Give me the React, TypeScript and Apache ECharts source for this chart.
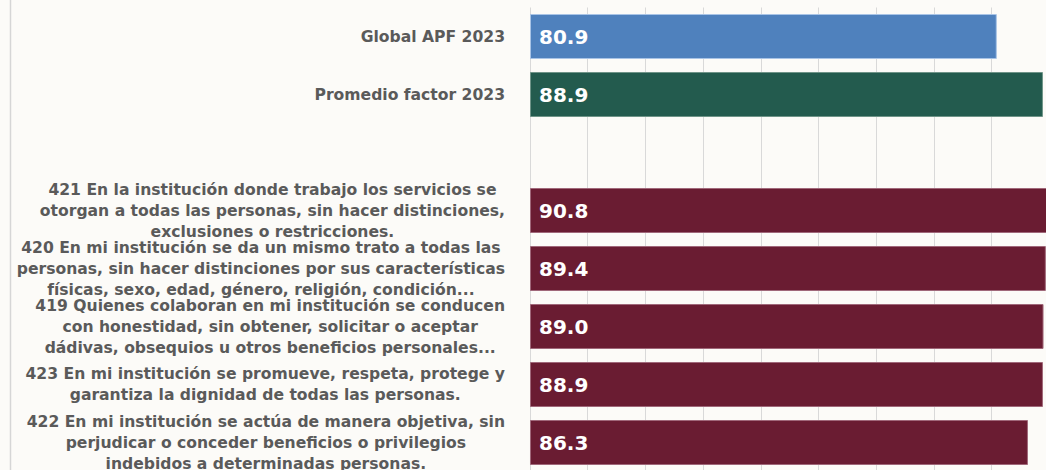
import React, { useEffect, useRef } from "react";
import * as echarts from "echarts";

const categories: string[] = [
  "Global APF 2023",
  "Promedio factor 2023",
  "",
  "421 En la institución donde trabajo los servicios se\notorgan a todas las personas, sin hacer distinciones,\nexclusiones o restricciones.",
  "420 En mi institución se da un mismo trato a todas las\npersonas, sin hacer distinciones por sus características\nfísicas, sexo, edad, género, religión, condición...",
  "419 Quienes colaboran en mi institución se conducen\ncon honestidad, sin obtener, solicitar o aceptar\ndádivas, obsequios u otros beneficios personales...",
  "423 En mi institución se promueve, respeta, protege y\ngarantiza la dignidad de todas las personas.",
  "422 En mi institución se actúa de manera objetiva, sin\nperjudicar o conceder beneficios o privilegios\nindebidos a determinadas personas.",
];

const values: (number | null)[] = [80.9, 88.9, null, 90.8, 89.4, 89.0, 88.9, 86.3];

const barColors: string[] = [
  "#4f81bd",
  "#235b4e",
  "#6a1c32",
  "#6a1c32",
  "#6a1c32",
  "#6a1c32",
  "#6a1c32",
  "#6a1c32",
];

const borderColors: string[] = [
  "#a9c4e6",
  "#6f9488",
  "#a0687a",
  "#a0687a",
  "#a0687a",
  "#a0687a",
  "#a0687a",
  "#a0687a",
];

const xTicks = { min: 0, max: 100, interval: 10 };

const LABEL_FONT = "'DejaVu Sans', 'Open Sans', sans-serif";

export default function App() {
  const ref = useRef<HTMLDivElement>(null);

  useEffect(() => {
    if (!ref.current) return;
    const chart = echarts.init(ref.current, undefined, { renderer: "svg" });

    const data = values.map((v, i) =>
      v === null
        ? "-"
        : {
            value: v,
            itemStyle: {
              color: barColors[i],
              borderColor: borderColors[i],
              borderWidth: 1,
            },
          }
    );

    chart.setOption({
      animation: false,
      backgroundColor: "#fcfbf8",
      graphic: [
        {
          type: "line",
          z: -1,
          shape: { x1: 10.5, y1: 0, x2: 10.5, y2: 470 },
          style: { stroke: "#d6d6d6", lineWidth: 1.5 },
          silent: true,
        },
      ],
      grid: {
        left: 530,
        top: 7.5,
        width: 577,
        height: 464,
        containLabel: false,
        outerBoundsMode: "none",
      },
      xAxis: {
        type: "value",
        min: xTicks.min,
        max: xTicks.max,
        interval: xTicks.interval,
        axisLabel: { show: false },
        axisLine: { show: false },
        axisTick: { show: false },
        splitLine: { show: true, lineStyle: { color: "#d9d9d9", width: 1 } },
      },
      yAxis: {
        type: "category",
        inverse: true,
        data: categories,
        axisLine: { show: false },
        axisTick: { show: false },
        axisLabel: {
          margin: 25,
          align: "right",
          interval: 0,
          color: "#5a5a5a",
          fontFamily: LABEL_FONT,
          fontSize: 15.6,
          fontWeight: "bold",
          lineHeight: 21,
          formatter: (val: string) =>
            val
              .split("\n")
              .map((l) => "{c|" + l + "}")
              .join("\n"),
          rich: {
            c: {
              align: "center",
              color: "#5a5a5a",
              fontFamily: LABEL_FONT,
              fontSize: 15.6,
              fontWeight: "bold",
              lineHeight: 21,
            },
          },
        },
      },
      series: [
        {
          type: "bar",
          data,
          barWidth: 45,
          clip: true,
          label: {
            show: true,
            position: "insideLeft",
            distance: 9,
            color: "#ffffff",
            fontFamily: LABEL_FONT,
            fontSize: 20,
            fontWeight: "bold",
            formatter: (p: any) => Number(p.value).toFixed(1),
          },
        },
      ],
    });

    return () => chart.dispose();
  }, []);

  return (
    <div
      ref={ref}
      style={{ position: "absolute", left: 0, top: 0, width: 1046, height: 470 }}
    />
  );
}
